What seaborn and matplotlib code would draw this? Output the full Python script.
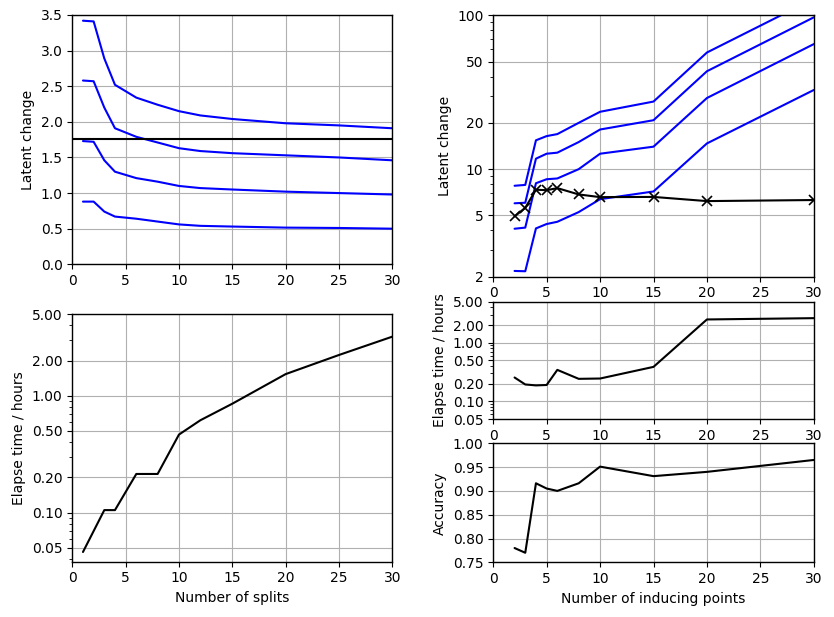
import matplotlib
matplotlib.use("Agg")
import matplotlib.pyplot as plt
import matplotlib.ticker as mticker
import numpy as np
import pandas as pd
import seaborn as sns

# ---------------- data ----------------
splits = [1, 2, 3, 4, 6, 8, 10, 12, 15, 20, 25, 30]
latent_split_q1 = [3.42, 3.41, 2.89, 2.52, 2.34, 2.24, 2.15, 2.09, 2.04, 1.98, 1.95, 1.91]
latent_split_q2 = [2.58, 2.57, 2.20, 1.91, 1.79, 1.71, 1.63, 1.59, 1.56, 1.53, 1.50, 1.46]
latent_split_q3 = [1.73, 1.72, 1.46, 1.30, 1.21, 1.16, 1.10, 1.07, 1.05, 1.02, 1.00, 0.98]
latent_split_q4 = [0.88, 0.88, 0.74, 0.67, 0.64, 0.60, 0.56, 0.54, 0.53, 0.515, 0.51, 0.50]
latent_split_ref = 1.755
time_split = [0.046, 0.0695, 0.105, 0.105, 0.214, 0.214, 0.465, 0.616, 0.854, 1.53, 2.23, 3.2]

inducing = [2, 3, 4, 5, 6, 8, 10, 15, 20, 30]
latent_ind_q1 = [7.8, 7.9, 15.4, 16.4, 16.9, 20.0, 23.6, 27.5, 57.3, 128.0]
latent_ind_q2 = [6.0, 6.05, 11.7, 12.6, 12.8, 15.0, 18.1, 20.8, 43.3, 97.0]
latent_ind_q3 = [4.1, 4.17, 8.1, 8.6, 8.7, 10.0, 12.6, 14.0, 29.0, 65.0]
latent_ind_q4 = [2.18, 2.17, 4.12, 4.4, 4.55, 5.26, 6.38, 7.16, 14.7, 32.7]
latent_ind_mean = [4.93, 5.61, 7.35, 7.3, 7.53, 6.85, 6.58, 6.6, 6.2, 6.3]
time_ind = [0.255, 0.194, 0.187, 0.19, 0.344, 0.242, 0.245, 0.387, 2.49, 2.62]
acc_ind = [0.78, 0.77, 0.916, 0.905, 0.90, 0.916, 0.951, 0.931, 0.94, 0.965]

log_ticks = [0.05, 0.1, 0.2, 0.5, 1.0, 2.0, 5.0]
latent_log_ticks = [2, 5, 10, 20, 50, 100]
x_ticks = [0, 5, 10, 15, 20, 25, 30]

# ---------------- style ----------------
sns.set_style("ticks", {
    "axes.edgecolor": "black",
    "grid.color": "#b0b0b0",
    "xtick.color": "black",
    "ytick.color": "black",
    "axes.labelcolor": "black",
    "text.color": "black",
})
plt.rcParams["font.family"] = ["DejaVu Sans"]
plt.rcParams["font.size"] = 10
plt.rcParams["axes.linewidth"] = 1.0

W, H = 834, 617
fig = plt.figure(figsize=(W / 100, H / 100), dpi=100)


def box(x0, y0, x1, y1):
    return [x0 / W, 1 - y1 / H, (x1 - x0) / W, (y1 - y0) / H]


ax_tl = fig.add_axes(box(72.3, 15, 392.3, 264.3))
ax_bl = fig.add_axes(box(72.3, 314, 392.3, 561.7))
ax_tr = fig.add_axes(box(493.2, 15.3, 813.8, 276.7))
ax_mr = fig.add_axes(box(493.2, 301.7, 813.8, 419))
ax_br = fig.add_axes(box(493.2, 443.3, 813.8, 562.3))

lw = 1.5

# top-left: latent change vs splits
for s in [latent_split_q1, latent_split_q2, latent_split_q3, latent_split_q4]:
    sns.lineplot(x=splits, y=s, ax=ax_tl, color="blue", linewidth=lw)
ax_tl.axhline(latent_split_ref, color="black", linewidth=lw)
ax_tl.set_xlim(0, 30)
ax_tl.set_ylim(0, 3.5)
ax_tl.set_yticks(np.arange(0, 3.51, 0.5))
ax_tl.set_ylabel("Latent change")

# bottom-left: time vs splits
sns.lineplot(x=splits, y=time_split, ax=ax_bl, color="black", linewidth=lw)
ax_bl.set_yscale("log")
ax_bl.set_xlim(0, 30)
ax_bl.set_ylim(0.038, 5)
ax_bl.set_ylabel("Elapse time / hours")
ax_bl.set_xlabel("Number of splits")

# top-right: latent change vs inducing points
for s in [latent_ind_q1, latent_ind_q2, latent_ind_q3, latent_ind_q4]:
    sns.lineplot(x=inducing, y=s, ax=ax_tr, color="blue", linewidth=lw)
sns.lineplot(x=inducing, y=latent_ind_mean, ax=ax_tr, color="black",
             linewidth=lw, marker="x", markersize=7, markeredgewidth=1.2,
             markeredgecolor="black")
ax_tr.set_yscale("log")
ax_tr.set_xlim(0, 30)
ax_tr.set_ylim(2, 100)
ax_tr.yaxis.set_major_locator(mticker.FixedLocator(latent_log_ticks))
ax_tr.yaxis.set_major_formatter(mticker.FixedFormatter([str(t) for t in latent_log_ticks]))
ax_tr.yaxis.set_minor_formatter(mticker.NullFormatter())
ax_tr.set_ylabel("Latent change")

# middle-right: time vs inducing
sns.lineplot(x=inducing, y=time_ind, ax=ax_mr, color="black", linewidth=lw)
ax_mr.set_yscale("log")
ax_mr.set_xlim(0, 30)
ax_mr.set_ylim(0.05, 5)
ax_mr.set_ylabel("Elapse time / hours")

# bottom-right: accuracy
sns.lineplot(x=inducing, y=acc_ind, ax=ax_br, color="black", linewidth=lw)
ax_br.set_xlim(0, 30)
ax_br.set_ylim(0.75, 1.0)
ax_br.set_yticks(np.arange(0.75, 1.001, 0.05))
ax_br.yaxis.set_major_formatter(mticker.FormatStrFormatter("%.2f"))
ax_br.set_ylabel("Accuracy")
ax_br.set_xlabel("Number of inducing points")

for ax in [ax_bl, ax_mr]:
    ax.yaxis.set_major_locator(mticker.FixedLocator(log_ticks))
    ax.yaxis.set_major_formatter(mticker.FormatStrFormatter("%.2f"))
    ax.yaxis.set_minor_formatter(mticker.NullFormatter())

for ax in [ax_tl, ax_bl, ax_tr, ax_mr, ax_br]:
    ax.set_xticks(x_ticks)
    ax.grid(True, which="major", color="#b0b0b0", linewidth=0.8)
    ax.tick_params(which="both", direction="out", color="black", labelsize=10)
    for sp in ax.spines.values():
        sp.set_visible(True)
        sp.set_color("black")

fig.savefig("out.png", dpi=100)
